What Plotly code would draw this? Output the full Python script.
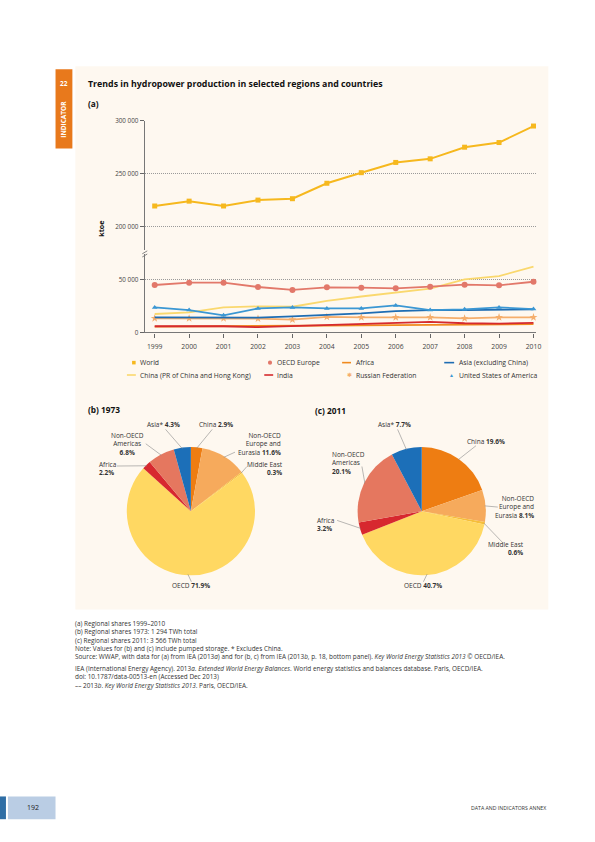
import math
import plotly.graph_objects as go

# ---------------- data ----------------
years = list(range(1999, 2011))
world = [219400, 224000, 219400, 225000, 226300, 240900, 250900, 260600, 264000, 275000, 279400, 295000]
oecd_europe = [45000, 47200, 47200, 43100, 40300, 42800, 42500, 41900, 43400, 45300, 44700, 48100]
africa = [5600, 5700, 5800, 5800, 6000, 6300, 6600, 6900, 7200, 7500, 7700, 7900]
asia_ex_china = [14400, 14400, 14400, 14100, 15300, 16600, 18100, 20300, 21250, 21250, 21250, 21900]
china = [17500, 19100, 23750, 24700, 24400, 30000, 34100, 37800, 41600, 50300, 53400, 62500]
india = [5900, 5900, 5900, 5000, 5900, 6600, 7800, 9100, 10000, 8750, 8400, 9100]
russia = [13400, 13400, 13400, 13100, 12200, 14700, 14400, 14400, 14400, 13400, 14400, 14400]
usa = [23750, 21250, 16250, 22800, 23750, 22800, 22800, 25600, 21250, 21900, 23750, 22200]

upper_ticks = [200000, 250000, 300000]
upper_ticklabels = ["200 000", "250 000", "300 000"]
lower_ticks = [0, 50000]
lower_ticklabels = ["0", "50 000"]

pie_labels = ["China", "Non-OECD<br>Europe and<br>Eurasia", "Middle East", "OECD", "Africa",
              "Non-OECD<br>Americas", "Asia*"]
share_1973 = [2.9, 11.6, 0.3, 71.9, 2.2, 6.8, 4.3]
share_2011 = [19.6, 8.1, 0.6, 40.7, 3.2, 20.1, 7.7]

# ---------------- style ----------------
W, H = 595, 842
FONT = "Open Sans"
C_WORLD = "#F6B81E"
C_OECDE = "#E2786A"
C_AFRICA = "#F08A1E"
C_ASIA = "#1F6DB3"
C_CHINA = "#FAD86E"
C_INDIA = "#D52A2E"
C_RUSSIA = "#F5AE6C"
C_USA = "#3B97D3"
pie_colors = ["#EE7D12", "#F6AA5C", "#F6BE3A", "#FFD862", "#D7282F", "#E5775F", "#1C6FB8"]


def px(x):
    return x / W


def py(y):
    return 1 - y / H


# plot geometry (pixels)
X0, X1 = 146, 541
YR_TOP_PX, YR_BOT_PX = 117, 248
YL_TOP_PX, YL_BOT_PX = 252, 331
K = 53.3 / 50000.0  # px per unit
year_px = (538 - 156) / 11.0
xr = [1999 - (156 - X0) / year_px, 2010 + (X1 - 538) / year_px]
up_range = [200000 - (YR_BOT_PX - 224) / K, 300000]
lo_range = [0, (YL_BOT_PX - YL_TOP_PX) / K]

fig = go.Figure()

def add_line(y, color, name, axis, width=1.8, marker=None, msize=5):
    mode = "lines+markers" if marker else "lines"
    fig.add_trace(go.Scatter(
        x=years, y=y, mode=mode, name=name, xaxis="x", yaxis=axis,
        line=dict(color=color, width=width),
        marker=dict(symbol=marker or "circle", size=msize, color=color),
        showlegend=False, cliponaxis=False))

add_line(china, C_CHINA, "China", "y2", 1.8)
add_line(africa, C_AFRICA, "Africa", "y2", 1.8)
add_line(india, C_INDIA, "India", "y2", 1.8)
add_line(russia, C_RUSSIA, "Russian Federation", "y2", 1.8, "star", 6)
add_line(asia_ex_china, C_ASIA, "Asia (excluding China)", "y2", 1.8)
add_line(usa, C_USA, "United States of America", "y2", 1.8, "triangle-up", 5)
add_line(oecd_europe, C_OECDE, "OECD Europe", "y2", 1.8, "circle", 6)
add_line(world, C_WORLD, "World", "y", 2.0, "square", 5)

ytickfont = dict(family=FONT, size=6.3, color="#444")
xtickfont = dict(family=FONT, size=6.8, color="#444")

fig.update_layout(
    width=W, height=H, margin=dict(l=0, r=0, t=0, b=0),
    paper_bgcolor="white", plot_bgcolor="rgba(0,0,0,0)",
    font=dict(family=FONT, color="#333"),
    xaxis=dict(domain=[px(X0), px(X1)], range=xr, anchor="y2",
               tickvals=years, ticktext=[str(y) for y in years],
               ticks="outside", ticklen=4, tickcolor="#666", tickwidth=0.8,
               showline=True, linecolor="#777", linewidth=1.2,
               showgrid=False, zeroline=False, tickfont=xtickfont, ticklabelstandoff=3),
    yaxis=dict(domain=[py(YR_BOT_PX), py(YR_TOP_PX)], range=up_range, anchor="x",
               tickvals=upper_ticks, ticktext=upper_ticklabels,
               ticks="outside", ticklen=4, tickcolor="#666", tickwidth=0.8,
               showline=True, linecolor="#777", linewidth=1.2,
               showgrid=True, gridcolor="#9A9A9A", gridwidth=0.6, griddash="1px,1px",
               zeroline=False, tickfont=ytickfont),
    yaxis2=dict(domain=[py(YL_BOT_PX), py(YL_TOP_PX)], range=lo_range, anchor="x",
                tickvals=lower_ticks, ticktext=lower_ticklabels,
                ticks="outside", ticklen=4, tickcolor="#666", tickwidth=0.8,
                showline=True, linecolor="#777", linewidth=1.2,
                showgrid=True, gridcolor="#9A9A9A", gridwidth=0.6, griddash="1px,1px",
                zeroline=False, tickfont=ytickfont),
)

shapes = []
# cream panel
shapes.append(dict(type="rect", xref="paper", yref="paper", x0=px(76), x1=px(553), y0=py(611), y1=py(62),
                   fillcolor="#FEF8F0", line=dict(width=0), layer="below"))
# orange side tab
shapes.append(dict(type="rect", xref="paper", yref="paper", x0=px(56), x1=px(73), y0=py(145), y1=py(65),
                   fillcolor="#E8791C", line=dict(width=0), layer="below"))
# axis break marks
for dy in (0, 3.2):
    shapes.append(dict(type="line", xref="paper", yref="paper", x0=px(143.5), x1=px(148.5),
                       y0=py(251.5 + dy), y1=py(248.5 + dy), line=dict(color="#777", width=0.9)))
# footer boxes
shapes.append(dict(type="rect", xref="paper", yref="paper", x0=0, x1=px(6), y0=py(823), y1=py(800),
                   fillcolor="#2F6EA5", line=dict(width=0)))
shapes.append(dict(type="rect", xref="paper", yref="paper", x0=px(8), x1=px(56), y0=py(823), y1=py(800),
                   fillcolor="#BACDE4", line=dict(width=0)))

annotations = []

def text(x, y, t, size=6.3, color="#333", xanchor="left", align="left", bold=False, yanchor="middle", **kw):
    if bold:
        t = "<b>" + t + "</b>"
    annotations.append(dict(xref="paper", yref="paper", x=px(x), y=py(y), text=t, showarrow=False,
                            xanchor=xanchor, yanchor=yanchor, align=align,
                            font=dict(family=FONT, size=size, color=color), **kw))

# side tab text
text(64.5, 79, "22", size=6.5, color="white", xanchor="center", bold=True)
text(64.5, 115, "INDICATOR", size=6.5, color="white", xanchor="center", bold=True, textangle=-90)

# titles
text(87, 80, "Trends in hydropower production in selected regions and countries", size=8.8, color="#111", bold=True)
text(87, 100, "(a)", size=8.3, color="#111", bold=True)
text(101, 226, "ktoe", size=7.2, color="#111", xanchor="center", bold=True, textangle=-90)

# legend
def leg_line(x, y, color, length=9):
    shapes.append(dict(type="line", xref="paper", yref="paper", x0=px(x), x1=px(x + length),
                       y0=py(y), y1=py(y), line=dict(color=color, width=1.6)))

LEGF = 6.8
LY1, LY2 = 361.5, 374
shapes.append(dict(type="rect", xref="paper", yref="paper", x0=px(133.2), x1=px(136.8), y0=py(LY1 + 1.8),
                   y1=py(LY1 - 1.8), fillcolor=C_WORLD, line=dict(width=0)))
text(139.5, LY1, "World", size=LEGF)
shapes.append(dict(type="circle", xref="paper", yref="paper", x0=px(270.2), x1=px(274.4), y0=py(LY1 + 2.1),
                   y1=py(LY1 - 2.1), fillcolor=C_OECDE, line=dict(width=0)))
text(277.5, LY1, "OECD Europe", size=LEGF)
leg_line(345, LY1, C_AFRICA)
text(356.5, LY1, "Africa", size=LEGF)
leg_line(448, LY1, C_ASIA, 10)
text(460.5, LY1, "Asia (excluding China)", size=LEGF)
leg_line(128, LY2, C_CHINA)
text(139.5, LY2, "China (PR of China and Hong Kong)", size=LEGF)
leg_line(266.5, LY2, C_INDIA)
text(277.5, LY2, "India", size=LEGF)
text(352, LY2, "✱", size=6, color=C_RUSSIA, xanchor="center")
text(356.5, LY2, "Russian Federation", size=LEGF)
text(455, LY2 - 0.3, "▲", size=5, color=C_USA, xanchor="center")
text(460.5, LY2, "United States of America", size=LEGF)

# ---------------- pies ----------------
PIE_R = 64.8
PIE_CY = 511.7
pies = [
    ("(b) 1973", share_1973, 192.5, 87, 409,
     [  # label x, label y, xanchor, align, leader start x, leader start y
         (218, 424, "center", "center", 214, 429),            # China
         (285.5, 443.5, "right", "right", 237, 452),          # Europe
         (287.5, 469, "right", "right", 249, 466.5),          # Middle East
         (193, 587, "center", "center", 193, 583),            # OECD
         (98, 469, "left", "left", 118, 466),                 # Africa
         (128.5, 443.5, "center", "center", 147, 443.5),      # Americas
         (165, 424, "center", "center", 167, 429),            # Asia
     ]),
    ("(c) 2011", share_2011, 425.3, 316, 410,
     [
         (490, 441, "center", "center", 480, 445.5),
         (540.5, 507.5, "right", "right", 502, 507.5),
         (530.5, 549, "right", "right", 507, 543.5),
         (427, 587, "center", "center", 427, 583),
         (318, 525, "left", "left", 340, 521),
         (333, 463, "left", "left", 365, 466.5),
         (398, 424, "center", "center", 401, 429),
     ]),
]

for title, shares, cx, tx, ty, labpos in pies:
    fig.add_trace(go.Pie(
        values=shares, labels=[l.replace("<br>", " ") for l in pie_labels],
        sort=False, direction="clockwise", rotation=0,
        marker=dict(colors=pie_colors, line=dict(width=0)),
        textinfo="none", showlegend=False, hoverinfo="label+percent",
        domain=dict(x=[px(cx - PIE_R), px(cx + PIE_R)], y=[py(PIE_CY + PIE_R), py(PIE_CY - PIE_R)])))
    text(tx, ty, title, size=8.3, color="#111", bold=True)
    total = sum(shares)
    cum = 0.0
    for name, v, (lx, ly, xa, al, sx, sy) in zip(pie_labels, shares, labpos):
        mid = (cum + v / 2) / total * 2 * math.pi
        cum += v
        ex = cx + (PIE_R - 1) * math.sin(mid)
        ey = PIE_CY - (PIE_R - 1) * math.cos(mid)
        shapes.append(dict(type="line", xref="paper", yref="paper", x0=px(sx), y0=py(sy), x1=px(ex), y1=py(ey),
                           line=dict(color="#8A8A8A", width=0.6)))
        if "<br>" in name:
            t = name + " <b>%.1f%%</b>" % v if name.endswith("Eurasia") else name + "<br><b>%.1f%%</b>" % v
        elif name in ("Middle East", "Africa"):
            t = name + "<br><b>%.1f%%</b>" % v
        else:
            t = name + " <b>%.1f%%</b>" % v
        text(lx, ly, t, size=6.5, color="#333", xanchor=xa, align=al)

# ---------------- notes ----------------
NOTEF = 6.4
LH = NOTEF * 1.3
notes_a = [
    "(a) Regional shares 1999–2010",
    "(b) Regional shares 1973: 1 294 TWh total",
    "(c) Regional shares 2011: 3 566 TWh total",
    "Note: Values for (b) and (c) include pumped storage. * Excludes China.",
    "Source: WWAP, with data for (a) from IEA (2013<i>a</i>) and for (b, c) from IEA (2013<i>b</i>, p. 18, bottom panel). "
    "<i>Key World Energy Statistics 2013</i> © OECD/IEA.",
]
notes_b = [
    "IEA (International Energy Agency). 2013<i>a</i>. <i>Extended World Energy Balances</i>. "
    "World energy statistics and balances database. Paris, OECD/IEA.",
    "doi: 10.1787/data-00513-en (Accessed Dec 2013)",
    "–– 2013<i>b</i>. <i>Key World Energy Statistics 2013</i>. Paris, OECD/IEA.",
]
text(75, 624 - LH / 2, "<br>".join(notes_a), size=NOTEF, color="#333", yanchor="top", borderpad=0)
text(75, 669 - LH / 2, "<br>".join(notes_b), size=NOTEF, color="#333", yanchor="top", borderpad=0)

# footer
text(33, 811.5, "192", size=7, color="#1a1a1a", xanchor="center")
text(553, 812, "DATA AND INDICATORS ANNEX", size=5.2, color="#333", xanchor="right")

fig.update_layout(shapes=shapes, annotations=annotations)
fig.write_html("out.html", config={"displayModeBar": False},
               post_script="document.body.style.margin='0';document.body.style.overflow='hidden';")
